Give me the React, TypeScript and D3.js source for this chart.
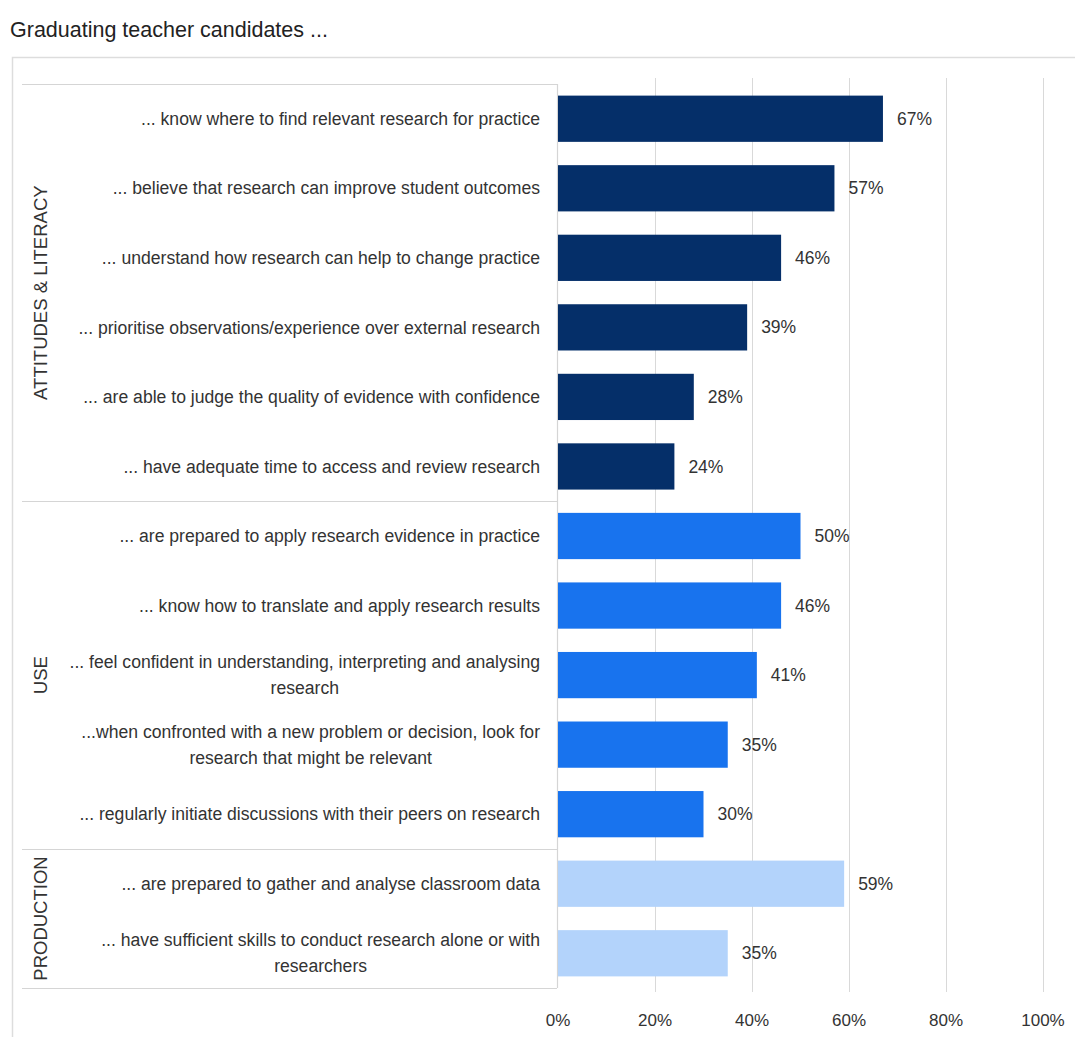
import React, { useEffect, useRef } from "react";
import * as d3 from "d3";

const categories = [
  "... know where to find relevant research for practice",
  "... believe that research can improve student outcomes",
  "... understand how research can help to change practice",
  "... prioritise observations/experience over external research",
  "... are able to judge the quality of evidence with confidence",
  "... have adequate time to access and review research",
  "... are prepared to apply research evidence in practice",
  "... know how to translate and apply research results",
  "... feel confident in understanding, interpreting and analysing|research",
  "...when confronted with a new problem or decision, look for|research that might be relevant",
  "... regularly initiate discussions with their peers on research",
  "... are prepared to gather and analyse classroom data",
  "... have sufficient skills to conduct research alone or with|researchers",
];
const values = [67, 57, 46, 39, 28, 24, 50, 46, 41, 35, 30, 59, 35];
const rowGroup = [0, 0, 0, 0, 0, 0, 1, 1, 1, 1, 1, 2, 2];
const groups = ["ATTITUDES & LITERACY", "USE", "PRODUCTION"];
const groupColors = ["#052f69", "#1873ee", "#b3d3fb"];
const ticks = [0, 20, 40, 60, 80, 100];
const title = "Graduating teacher candidates ...";

export default function App() {
  const ref = useRef<SVGSVGElement>(null);
  useEffect(() => {
    const svg = d3.select(ref.current);
    svg.selectAll("*").remove();
    const font = "'Liberation Sans', Arial, sans-serif";
    const textColor = "#333";
    const x = d3.scaleLinear().domain([0, 100]).range([558, 1043]);
    const y = d3
      .scaleBand<number>()
      .domain(d3.range(categories.length))
      .range([84, 988])
      .paddingInner(0.335)
      .paddingOuter(0.167);
    const step = y.step();
    const top = 84;

    svg.append("rect").attr("width", 1075).attr("height", 1037).attr("fill", "#fff");

    svg
      .append("text")
      .attr("x", 10)
      .attr("y", 37)
      .attr("font-family", font)
      .attr("font-size", 21.5)
      .attr("fill", "#222")
      .text(title);

    // outer frame
    svg
      .append("path")
      .attr("d", "M12.5,1037 L12.5,57.5 L1075,57.5")
      .attr("fill", "none")
      .attr("stroke", "#ddd")
      .attr("stroke-width", 1.5);

    // gridlines
    svg
      .append("g")
      .selectAll("line")
      .data(ticks.slice(1))
      .join("line")
      .attr("x1", (d) => x(d) + 0.5)
      .attr("x2", (d) => x(d) + 0.5)
      .attr("y1", 78)
      .attr("y2", 992)
      .attr("stroke", "#d9d9d9")
      .attr("stroke-width", 1);

    // table lines
    const bounds: number[] = [top];
    groups.forEach((_, gi) => {
      const idx = rowGroup.lastIndexOf(gi);
      bounds.push(top + (idx + 1) * step);
    });
    svg
      .append("g")
      .selectAll("line")
      .data(bounds)
      .join("line")
      .attr("x1", 22)
      .attr("x2", 557)
      .attr("y1", (d) => Math.round(d) + 0.5)
      .attr("y2", (d) => Math.round(d) + 0.5)
      .attr("stroke", "#d5d5d5")
      .attr("stroke-width", 1.2);
    svg
      .append("line")
      .attr("x1", 557.5)
      .attr("x2", 557.5)
      .attr("y1", top)
      .attr("y2", 988)
      .attr("stroke", "#d5d5d5")
      .attr("stroke-width", 1.2);

    // group labels
    groups.forEach((g, gi) => {
      const cy = (bounds[gi] + bounds[gi + 1]) / 2;
      svg
        .append("text")
        .attr("transform", `translate(47,${cy}) rotate(-90)`)
        .attr("text-anchor", "middle")
        .attr("font-family", font)
        .attr("font-size", 18.5)
        .attr("fill", textColor)
        .text(g);
    });

    // bars
    svg
      .append("g")
      .selectAll("rect")
      .data(values)
      .join("rect")
      .attr("x", x(0))
      .attr("y", (_, i) => y(i)!)
      .attr("width", (d) => x(d) - x(0))
      .attr("height", y.bandwidth())
      .attr("fill", (_, i) => groupColors[rowGroup[i]]);

    // value labels
    svg
      .append("g")
      .selectAll("text")
      .data(values)
      .join("text")
      .attr("x", (d) => x(d) + 14)
      .attr("y", (_, i) => y(i)! + y.bandwidth() / 2)
      .attr("dy", "0.35em")
      .attr("font-family", font)
      .attr("font-size", 17.5)
      .attr("fill", textColor)
      .text((d) => `${d}%`);

    // category labels
    categories.forEach((c, i) => {
      const lines = c.split("|");
      const cy = y(i)! + y.bandwidth() / 2;
      const lh = 26;
      const texts = lines.map((ln, li) =>
        svg
          .append("text")
          .attr("y", cy + (li - (lines.length - 1) / 2) * lh)
          .attr("dy", "0.35em")
          .attr("font-family", font)
          .attr("font-size", 17.6)
          .attr("fill", textColor)
          .text(ln)
      );
      const widths = texts.map((t) => (t.node() as SVGTextElement).getComputedTextLength());
      const maxW = Math.max(...widths);
      const cx = 540 - maxW / 2;
      texts.forEach((t) => t.attr("x", cx).attr("text-anchor", "middle"));
    });

    // tick labels
    svg
      .append("g")
      .selectAll("text")
      .data(ticks)
      .join("text")
      .attr("x", (d) => x(d))
      .attr("y", 1020)
      .attr("dy", "0.35em")
      .attr("text-anchor", "middle")
      .attr("font-family", font)
      .attr("font-size", 17)
      .attr("fill", textColor)
      .text((d) => `${d}%`);
  }, []);

  return (
    <svg
      ref={ref}
      width={1075}
      height={1037}
      style={{ position: "absolute", left: 0, top: 0, display: "block" }}
    />
  );
}
